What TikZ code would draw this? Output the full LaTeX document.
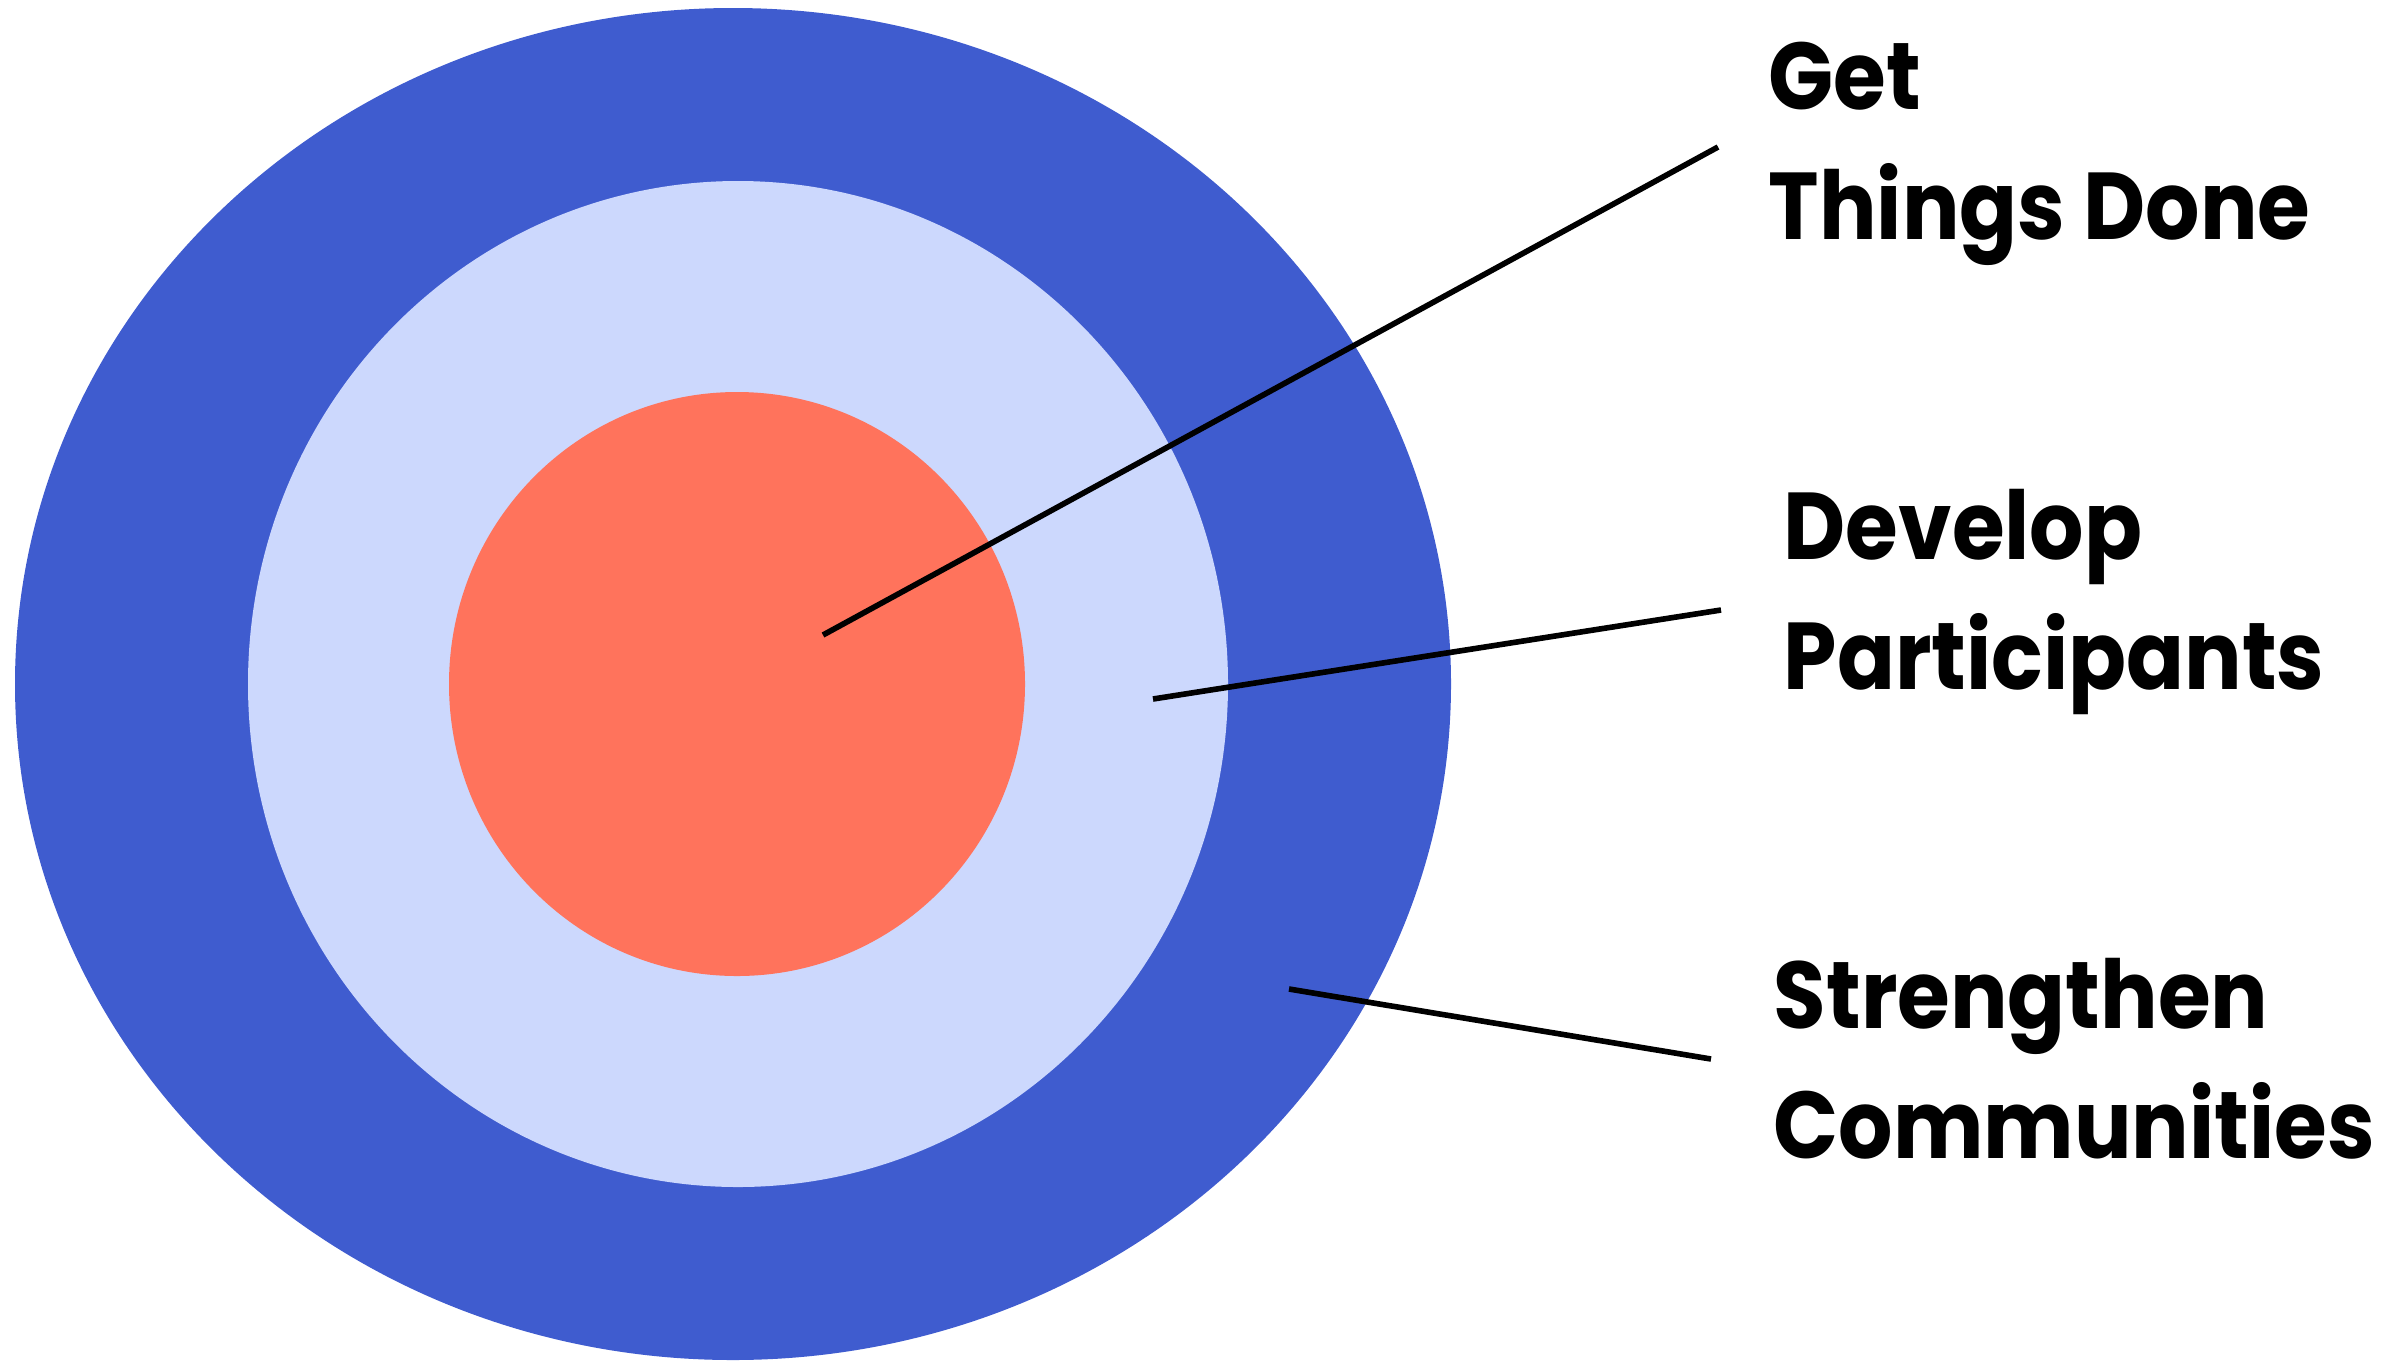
\documentclass[tikz,border=0pt]{standalone}
\usepackage{fontspec}
\newfontfamily\goalfont{Poppins}[FakeStretch=0.9]
\usetikzlibrary{positioning}

\definecolor{ringblue}{HTML}{3F5CCF}
\definecolor{ringlight}{HTML}{CCD8FD}
\definecolor{ringcoral}{HTML}{FF735C}

\begin{document}
\begin{tikzpicture}[
    x=0.01cm, y=-0.01cm,
    pointer/.style={line width=1.6pt, draw=black},
    goal/.style={font=\goalfont\bfseries\fontsize{27}{37}\selectfont, align=left, inner sep=0pt, anchor=west},
]
    \useasboundingbox (0,0) rectangle (2404,1360);

    % target rings
    \fill[ringblue] (733,684) ellipse [x radius=718, y radius=676];
    \fill[ringlight] (738,684) ellipse [x radius=490, y radius=503];
    \fill[ringcoral] (737,684) ellipse [x radius=288, y radius=292];

    % pointer ends
    \coordinate (gtd-tip) at (823,635);
    \coordinate (gtd-end) at (1718,147);
    \coordinate (dev-tip) at (1153,699);
    \coordinate (dev-end) at (1721,610);
    \coordinate (str-tip) at (1289,989);
    \coordinate (str-end) at (1711,1059);

    % labels
    \node[goal, right=0.5cm of gtd-end, yshift=-0.07cm] (gtd) {Get\\Things Done};
    \node[goal, right=0.62cm of dev-end, yshift=0.08cm] (dev) {Develop\\Participants};
    \node[goal, right=0.62cm of str-end] (str) {Strengthen\\Communities};

    \draw[pointer] (gtd-tip) -- (gtd-end);
    \draw[pointer] (dev-tip) -- (dev-end);
    \draw[pointer] (str-tip) -- (str-end);
\end{tikzpicture}
\end{document}
